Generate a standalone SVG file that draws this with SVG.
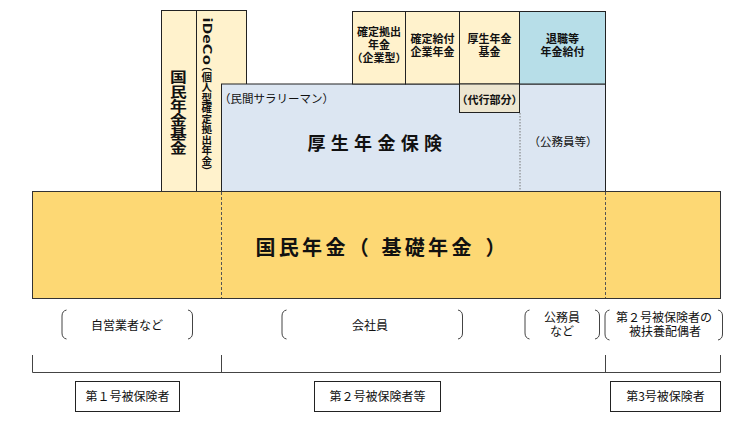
<svg xmlns="http://www.w3.org/2000/svg" width="755" height="423" viewBox="0 0 755 423">
<style>
text{font-family:"Noto Sans CJK JP","Noto Sans",sans-serif;fill:#111;}
.b{font-weight:bold;}
.box{stroke:#222;stroke-width:1;}
.cream{fill:#FFF2CC;}
.blue{fill:#DCE6F2;}
.aqua{fill:#B7DEE8;}
.tan{fill:#EDE6D0;}
.yellow{fill:#FDD874;}
.white{fill:#fff;}
.dash{stroke:#555;stroke-width:1;stroke-dasharray:3 2;fill:none;}
.dot{stroke:#777;stroke-width:1;stroke-dasharray:1.5 1.5;fill:none;}
.ln{stroke:#444;stroke-width:1;fill:none;}
.par{stroke:#444;stroke-width:1;fill:none;}
.s12{font-size:12px;}
.s11{font-size:11px;}
.m{text-anchor:middle;}
</style>
<g id="kokumin-kikin">
<rect class="box cream" x="161.5" y="10.5" width="35" height="181"/>
<text class="b m" transform="translate(178.5,0) scale(1.2,1)" font-size="14" x="0 0 0 0 0 0" y="82.4 96.6 110.8 125 139.2 153.4">国民年金基金</text>
</g>
<g id="ideco">
<rect class="box cream" x="196.5" y="10.5" width="50" height="181"/>
<text class="b" font-size="11" transform="translate(202.5,17.5) rotate(90) scale(1.5,1)" x="0" y="0">iDeCo</text>
<text class="b" font-size="10.5" x="206.7" y="61" style="writing-mode:vertical-rl">（個人型確定拠出年金）</text>
</g>
<g id="kosei-hoken">
<rect class="box blue" x="221.5" y="84" width="384" height="107.5"/>
<text font-size="11.5" x="219" y="103">（民間サラリーマン）</text>
<text class="b" font-size="18" x="307.5" y="149.8" letter-spacing="5.3">厚生年金保険</text>
<text class="m" font-size="11.5" x="563" y="145.7">（公務員等）</text>
</g>
<g id="dc-kigyo">
<rect class="box cream" x="352.5" y="11.5" width="53" height="72.5"/>
<text class="b m s11" x="379" y="36"><tspan x="379">確定拠出</tspan><tspan x="379" dy="12.6">年金</tspan><tspan x="379" dy="13.4">（企業型）</tspan></text>
</g>
<g id="db">
<rect class="box cream" x="405.5" y="11.5" width="54" height="72.5"/>
<text class="b m s11" x="432.5" y="42.5"><tspan x="432.5">確定給付</tspan><tspan x="432.5" dy="13.5">企業年金</tspan></text>
</g>
<g id="kosei-kikin">
<rect class="box cream" x="459.5" y="11.5" width="60" height="72.5"/>
<text class="b m s11" x="489.5" y="42.5"><tspan x="489.5">厚生年金</tspan><tspan x="489.5" dy="13.5">基金</tspan></text>
</g>
<g id="taishoku">
<rect class="box aqua" x="519.5" y="11.5" width="86" height="72.5"/>
<text class="b m s11" x="562.5" y="42.5"><tspan x="562.5">退職等</tspan><tspan x="562.5" dy="13.5">年金給付</tspan></text>
</g>
<g id="daiko">
<rect class="box tan" x="459.5" y="84" width="60" height="28.5"/>
<text class="b m s11" x="489.5" y="104.2">（代行部分）</text>
</g>
<g id="kokumin-nenkin">
<rect class="box yellow" x="32.5" y="191.5" width="688" height="107" style="stroke:#333"/>
<text class="b" font-size="20" x="255.5 278.8 302.1 325.4 348.7 381.5 404.8 428.1 451.4 485.5" y="254.5">国民年金（基礎年金）</text>
</g>
<g id="label-jiei">
<text class="m s12" x="127" y="330">自営業者など</text>
</g>
<g id="label-kaishain">
<text class="m s12" x="370" y="330">会社員</text>
</g>
<g id="label-komuin">
<text class="m s12" x="562" y="322"><tspan x="562">公務員</tspan><tspan x="562" dy="14">など</tspan></text>
</g>
<g id="label-haigusha">
<text class="m s12" x="664" y="322"><tspan x="664">第２号被保険者の</tspan><tspan x="665" dy="14">被扶養配偶者</tspan></text>
</g>
<g id="hoken1">
<rect class="box white" x="75.5" y="381.5" width="104" height="30"/>
<text class="m s12" x="127.5" y="400.5">第１号被保険者</text>
</g>
<g id="hoken2">
<rect class="box white" x="314.5" y="381.5" width="126" height="30"/>
<text class="m s12" x="377.5" y="400.5">第２号被保険者等</text>
</g>
<g id="hoken3">
<rect class="box white" x="610.5" y="381.5" width="110" height="30"/>
<text class="m s12" x="665.5" y="400.5">第3号被保険者</text>
</g>
<g id="connectors">
<line class="dash" x1="221.5" y1="192" x2="221.5" y2="298"/>
<line class="dash" x1="605.5" y1="192" x2="605.5" y2="298"/>
<line class="dot" x1="520" y1="113" x2="520" y2="191"/>
<path class="par" d="M66.5,310 Q62,311 62,316 L62,333 Q62,338 66.5,339"/>
<path class="par" d="M188,310 Q192.5,311 192.5,316 L192.5,333 Q192.5,338 188,339"/>
<path class="par" d="M286.5,310 Q282,311 282,316 L282,333 Q282,338 286.5,339"/>
<path class="par" d="M458,310 Q462.5,311 462.5,316 L462.5,333 Q462.5,338 458,339"/>
<path class="par" d="M529.5,310 Q525,311 525,316 L525,333 Q525,338 529.5,339"/>
<path class="par" d="M595,310 Q599.5,311 599.5,316 L599.5,333 Q599.5,338 595,339"/>
<path class="par" d="M609.5,310 Q605,311 605,316 L605,334 Q605,339 609.5,340"/>
<path class="par" d="M718,310 Q722.5,311 722.5,316 L722.5,334 Q722.5,339 718,340"/>
<path class="ln" d="M32.5,355 V372.5 H720.5 V355 M221.5,355 V372.5 M605.5,355 V372.5"/>
</g>
</svg>
